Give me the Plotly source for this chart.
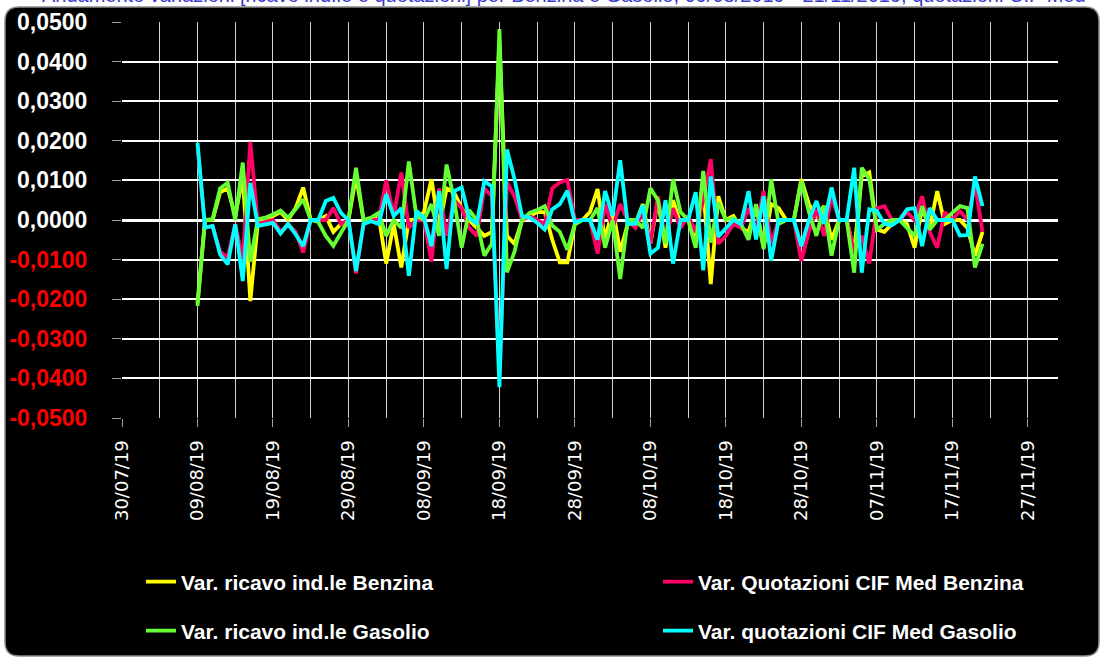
import pandas as pd
import plotly.graph_objects as go

# ---------------- data ----------------
start_date = "2019-08-09"
n_days = 105
dates = pd.date_range(start_date, periods=n_days, freq="D")

ricavo_benzina = [
    -0.0210, 0.0, 0.0, 0.0070, 0.0080, 0.0010, 0.0110, -0.0205, -0.0005, 0.0,
    0.0010, 0.0020, 0.0, 0.0030, 0.0082, 0.0, 0.0, 0.0010, -0.0030, -0.0010,
    0.0, 0.0110, 0.0, 0.0, 0.0010, -0.0110, -0.0010, -0.0120, 0.0, 0.0,
    0.0020, 0.0103, -0.0020, 0.0080, 0.0070, 0.0030, 0.0, -0.0020, -0.0040, -0.0030,
    0.0450, -0.0040, -0.0060, 0.0, 0.0010, 0.0020, 0.0020, -0.0050, -0.0107, -0.0107,
    -0.0010, 0.0, 0.0020, 0.0078, -0.0050, 0.0030, -0.0080, -0.0010, -0.0010, 0.0040,
    -0.0060, 0.0050, -0.0070, 0.0050, -0.0010, 0.0010, -0.0060, 0.0080, -0.0162, 0.0060,
    0.0, 0.0010, -0.0020, -0.0030, 0.0030, -0.0070, 0.0040, 0.0030, 0.0, 0.0,
    0.0103, 0.0040, 0.0010, 0.0035, -0.0050, 0.0, 0.0, -0.0080, 0.0110, 0.0120,
    -0.0024, -0.0030, -0.0010, 0.0, -0.0010, -0.0070, 0.0030, -0.0020, 0.0073, -0.0010,
    0.0, 0.0, -0.0020, -0.0090, -0.0030,
]

quotazioni_benzina = [
    0.0190, -0.0020, -0.0015, -0.0080, -0.0095, -0.0010, -0.0100, 0.0197, -0.0010, -0.0005,
    0.0, -0.0030, -0.0010, -0.0030, -0.0082, 0.0, 0.0, 0.0, 0.0030, -0.0010,
    0.0, -0.0135, -0.0010, 0.0, 0.0, 0.0100, 0.0010, 0.0120, -0.0020, 0.0,
    0.0, -0.0105, 0.0080, -0.0040, 0.0050, 0.0030, -0.0020, -0.0040, 0.0080, 0.0060,
    -0.0390, 0.0095, 0.0060, 0.0, 0.0010, 0.0, -0.0010, 0.0080, 0.0095, 0.0101,
    0.0, 0.0, 0.0, -0.0085, 0.0040, -0.0020, 0.0040, 0.0, -0.0020, 0.0020,
    -0.0060, 0.0060, -0.0050, 0.0030, -0.0020, 0.0010, -0.0030, 0.0050, 0.0154, -0.0060,
    -0.0040, -0.0010, -0.0020, 0.0030, -0.0020, 0.0073, -0.0060, 0.0, 0.0, 0.0,
    -0.0103, -0.0030, 0.0027, -0.0040, 0.0060, 0.0, 0.0, -0.0080, -0.0040, -0.0110,
    0.0030, 0.0035, 0.0, 0.0, 0.0020, 0.0, 0.0060, -0.0030, -0.0070, 0.0020,
    0.0, 0.0023, 0.0, 0.0090, -0.0030,
]

ricavo_gasolio = [
    -0.0217, 0.0, 0.0002, 0.0080, 0.0094, 0.0, 0.0145, -0.0105, 0.0002, 0.0006,
    0.0014, 0.0024, 0.0006, 0.0027, 0.0052, 0.0, -0.0005, -0.0040, -0.0065, -0.0030,
    0.0, 0.0132, 0.0, 0.0006, 0.0018, -0.0040, 0.0, -0.0020, 0.0148, 0.0010,
    0.0, 0.0040, -0.0040, 0.0140, 0.0050, -0.0070, 0.0025, 0.0, -0.0090, -0.0060,
    0.0482, -0.0132, -0.0080, 0.0, 0.0018, 0.0025, 0.0035, -0.0014, -0.0030, -0.0075,
    -0.0010, 0.0, 0.0, 0.0030, -0.0070, 0.0, -0.0149, 0.0, 0.0, -0.0020,
    0.0080, 0.0050, -0.0060, 0.0103, 0.0020, 0.0, -0.0070, 0.0124, -0.0057, 0.0044,
    0.0, 0.0005, -0.0010, -0.0050, 0.0040, -0.0074, 0.0103, -0.0010, 0.0, 0.0,
    0.0098, 0.0020, -0.0040, 0.0035, -0.0090, 0.0, 0.0, -0.0133, 0.0132, 0.0103,
    -0.0024, -0.0010, 0.0, 0.0, -0.0020, -0.0040, 0.0035, -0.0024, 0.0, 0.0,
    0.0018, 0.0035, 0.0030, -0.0120, -0.0060,
]

quotazioni_gasolio = [
    0.0195, -0.0019, -0.0015, -0.0087, -0.0112, -0.0011, -0.0154, 0.0094, -0.0015, -0.0011,
    -0.0007, -0.0034, -0.0010, -0.0036, -0.0066, 0.0, 0.0, 0.0048, 0.0056, 0.0018,
    0.0, -0.0129, -0.0010, -0.0003, -0.0010, 0.0065, 0.0010, 0.0030, -0.0141, 0.0023,
    0.0006, -0.0066, 0.0073, -0.0124, 0.0073, 0.0082, 0.0006, -0.0010, 0.0098, 0.0085,
    -0.0422, 0.0178, 0.0103, 0.0010, 0.0006, -0.0007, -0.0024, 0.0027, 0.0040, 0.0074,
    -0.0006, 0.0, 0.0, -0.0050, 0.0073, 0.0010, 0.0151, -0.0010, -0.0010, 0.0037,
    -0.0085, -0.0070, 0.0050, -0.0110, 0.0, 0.0, 0.0070, -0.0127, 0.0110, -0.0042,
    -0.0020, 0.0, -0.0010, 0.0073, -0.0049, 0.0060, -0.0103, 0.0, 0.0, 0.0,
    -0.0066, 0.0, 0.0048, -0.0010, 0.0082, 0.0, 0.0, 0.0132, -0.0133, 0.0027,
    0.0023, -0.0010, -0.0013, 0.0, 0.0027, 0.0030, -0.0066, 0.0030, 0.0, 0.0,
    0.0, -0.0039, -0.0038, 0.0110, 0.0035,
]

series_names = [
    "Var. ricavo ind.le Benzina",
    "Var. Quotazioni CIF Med Benzina",
    "Var. ricavo ind.le Gasolio",
    "Var. quotazioni CIF Med Gasolio",
]
series_values = [ricavo_benzina, quotazioni_benzina, ricavo_gasolio, quotazioni_gasolio]
series_colors = ["#FFFF00", "#FF0066", "#66FF33", "#00FFFF"]

y_tick_values = [0.05, 0.04, 0.03, 0.02, 0.01, 0.0, -0.01, -0.02, -0.03, -0.04, -0.05]
title_text = ("Andamento variazioni [ricavo ind.le e quotazioni] per Benzina e Gasolio, "
              "09/08/2019 - 21/11/2019, quotazioni CIF Med")

# ---------------- layout constants ----------------
W, H = 1104, 660
L, R, T, B = 122, 46, 22, 242
PW, PH = W - L - R, H - T - B


def px2x(px):
    return (px - L) / PW


def py2y(py):
    return (H - B - py) / PH


def cx(px):
    return px / W


def cy(py):
    return 1 - py / H


def ytxt(v):
    s = f"{v:.4f}".replace(".", ",")
    if v < 0:
        return f'<span style="color:#FF0000">{s}</span>'
    return s


fig = go.Figure()

legend_ids = ["legend", "legend2", "legend3", "legend4"]
for name, vals, col, lg in zip(series_names, series_values, series_colors, legend_ids):
    fig.add_trace(go.Scatter(
        x=dates, y=vals, mode="lines", name=name, legend=lg,
        line=dict(color=col, width=3.8),
    ))

# rounded black frame
x0, x1 = px2x(5), px2x(1099)
y0, y1 = py2y(656), py2y(7)
rx, ry = 14 / PW, 14 / PH
path = (f"M {x0+rx},{y1} L {x1-rx},{y1} Q {x1},{y1} {x1},{y1-ry} "
        f"L {x1},{y0+ry} Q {x1},{y0} {x1-rx},{y0} "
        f"L {x0+rx},{y0} Q {x0},{y0} {x0},{y0+ry} "
        f"L {x0},{y1-ry} Q {x0},{y1} {x0+rx},{y1} Z")
fig.add_shape(type="path", path=path, xref="paper", yref="paper",
              fillcolor="#000000", line=dict(color="#8c8c8c", width=1.5), layer="below")

# clipped title at top (partly outside the page, as in the reference)
fig.add_annotation(text=title_text, xref="paper", yref="paper",
                   x=px2x(40), y=py2y(8), xanchor="left", yanchor="bottom",
                   showarrow=False, font=dict(family="Liberation Sans", size=20, color="#3a3acc"))

legend_common = dict(orientation="h", bgcolor="rgba(0,0,0,0)", borderwidth=0,
                     font=dict(family="Liberation Sans", size=21, color="#FFFFFF", weight="bold"),
                     xref="container", yref="container",
                     xanchor="left", yanchor="middle", itemclick=False, itemdoubleclick=False)

fig.update_layout(
    width=W, height=H,
    margin=dict(l=L, r=R, t=T, b=B, autoexpand=False),
    paper_bgcolor="#FFFFFF",
    plot_bgcolor="#000000",
    showlegend=True,
    hovermode=False,
    legend=dict(x=cx(141), y=cy(582), **legend_common),
    legend2=dict(x=cx(658), y=cy(582), **legend_common),
    legend3=dict(x=cx(141), y=cy(631), **legend_common),
    legend4=dict(x=cx(658), y=cy(631), **legend_common),
    xaxis=dict(
        type="date",
        automargin=False,
        range=["2019-07-30", "2019-12-01"],
        tick0="2019-07-30",
        dtick=10 * 86400000,
        tickformat="%d/%m/%y",
        tickangle=-90,
        ticks="outside", ticklen=8, tickcolor="#a0a0a0", tickwidth=1,
        ticklabelstandoff=6,
        tickfont=dict(family="DejaVu Sans", size=18, color="#FFFFFF"),
        showgrid=True, gridcolor="#d0d0d0", gridwidth=1.3,
        minor=dict(dtick=5 * 86400000, tick0="2019-07-30", showgrid=True,
                   gridcolor="#d0d0d0", gridwidth=1.3, ticklen=0),
        showline=False, zeroline=False,
    ),
    yaxis=dict(
        automargin=False,
        range=[-0.05, 0.05],
        tickvals=y_tick_values,
        ticktext=[ytxt(v) for v in y_tick_values],
        ticks="outside", ticklen=9, tickcolor="#a0a0a0", tickwidth=1,
        ticklabelstandoff=20,
        tickfont=dict(family="Liberation Sans", size=23, color="#FFFFFF", weight="bold"),
        showgrid=True, gridcolor="#FFFFFF", gridwidth=1.5,
        zeroline=True, zerolinecolor="#FFFFFF", zerolinewidth=3,
        showline=False,
    ),
)

fig.write_html("out.html",
               config={"displayModeBar": False, "staticPlot": False},
               post_script="document.body.style.margin='0';document.body.style.padding='0';")
